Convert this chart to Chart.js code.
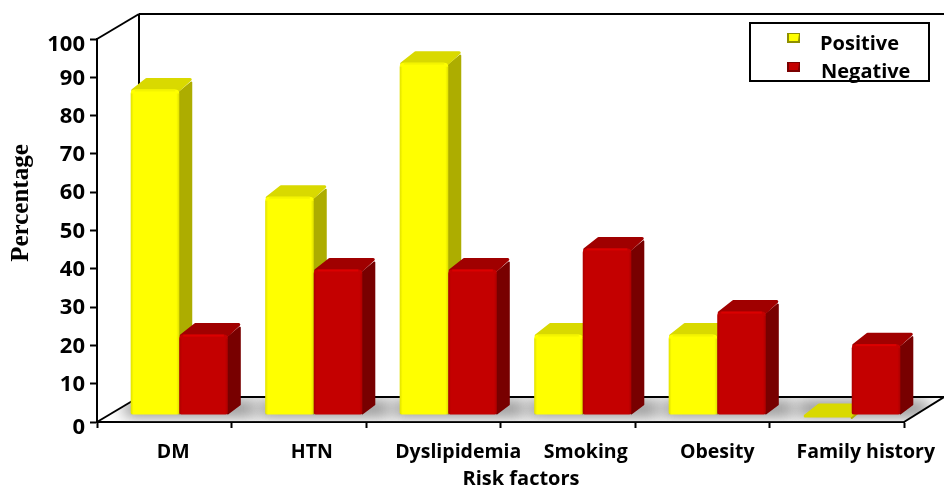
<!DOCTYPE html>
<html>
<head>
<meta charset="utf-8">
<style>
  html, body { margin: 0; padding: 0; background: #fff; }
  canvas { display: block; }
</style>
<script src="https://cdn.jsdelivr.net/npm/chart.js@4"></script>
</head>
<body>
<canvas id="myChart" width="944" height="488"></canvas>
<script>
const categories = ['DM', 'HTN', 'Dyslipidemia', 'Smoking', 'Obesity', 'Family history'];
const positive = [85, 57, 92, 21, 21, 0];
const negative = [21, 38, 38, 43.5, 27, 18.5];
const yTicks = [0, 10, 20, 30, 40, 50, 60, 70, 80, 90, 100];
const xTitle = 'Risk factors';
const yTitle = 'Percentage';

const faces = {
  Positive: { side: '#adad00', top: '#d9d900', lip: '#f4f400', swatchDark: '#8f8f00' },
  Negative: { side: '#780000', top: '#a00000', lip: '#dc0000', swatchDark: '#7a0000' },
};

// bars stand in the middle of the floor, not on the front edge
const shiftX = 15;
const shiftY = -7;
const depthX = 12;
const depthY = -10;

// labels are hand placed in the original, they don't sit on the category centres
const xLabelNudge = [9, 13, 25, 18, 15, 29];
const yLabelNudge = { 0: 6, 100: 6 };

const poly = (ctx, pts, fill, round) => {
  ctx.beginPath();
  pts.forEach((p, i) => (i ? ctx.lineTo(p[0], p[1]) : ctx.moveTo(p[0], p[1])));
  ctx.closePath();
  ctx.fillStyle = fill;
  ctx.fill();
  if (round) {
    ctx.strokeStyle = fill;
    ctx.lineWidth = round;
    ctx.lineJoin = 'round';
    ctx.stroke();
  }
};

const line = (ctx, x1, y1, x2, y2) => {
  ctx.beginPath();
  ctx.moveTo(x1, y1);
  ctx.lineTo(x2, y2);
  ctx.stroke();
};

// the left bar has to go down first so the right one covers its side face
const paintBars = (chart, index) => {
  const { ctx } = chart;
  const meta = chart.getDatasetMeta(index);
  const style = faces[chart.data.datasets[index].label];
  ctx.save();
  ctx.translate(shiftX, shiftY);
  meta.data.forEach((el) => {
    const l = el.x - el.width / 2;
    const r = el.x + el.width / 2;
    poly(ctx, [[r, el.y + 3], [r + depthX, el.y + depthY + 3], [r + depthX, el.base + depthY], [r, el.base - 1]], style.side, 2);
    poly(ctx, [[l + 2, el.y + 1], [l + depthX + 4, el.y + depthY], [r + depthX - 1, el.y + depthY], [r - 1, el.y + 1]], style.top, 3);
  });
  meta.controller.draw();
  meta.data.forEach((el) => {
    const l = el.x - el.width / 2;
    const h = el.base - el.y;
    if (h <= 0) return;
    const g = ctx.createLinearGradient(l, 0, l + el.width, 0);
    g.addColorStop(0, 'rgba(0,0,0,0.12)');
    g.addColorStop(0.06, 'rgba(0,0,0,0)');
    g.addColorStop(0.94, 'rgba(0,0,0,0)');
    g.addColorStop(1, 'rgba(0,0,0,0.12)');
    ctx.fillStyle = g;
    ctx.fillRect(l, el.y + 4, el.width, h - 4);
    ctx.fillStyle = style.lip;
    ctx.fillRect(l + 4, el.y, el.width - 8, 2);
  });
  ctx.restore();
};

const box3d = {
  id: 'box3d',
  beforeDraw(chart) {
    const xItems = chart.scales.x.getLabelItems();
    if (!xItems.nudged) {
      xItems.forEach((item, i) => {
        item.options.translation[0] += xLabelNudge[i];
      });
      xItems.nudged = true;
    }
    const yItems = chart.scales.y.getLabelItems();
    if (!yItems.nudged) {
      yItems.forEach((item) => {
        item.options.translation[1] += (yLabelNudge[item.label] || 1);
      });
      yItems.nudged = true;
    }
  },
  beforeDatasetsDraw(chart) {
    const { ctx, chartArea: a } = chart;
    const backX = a.left + 42;
    const backY = a.bottom - 25;
    const topY = a.top - 25;
    const w = chart.width;

    // floor shadow
    ctx.save();
    ctx.beginPath();
    ctx.moveTo(a.left, a.bottom);
    ctx.lineTo(backX, backY);
    ctx.lineTo(w, backY);
    ctx.lineTo(a.right, a.bottom);
    ctx.closePath();
    ctx.clip();
    ctx.filter = 'blur(8px)';
    ctx.fillStyle = '#808080';
    const first = chart.getDatasetMeta(0).data;
    const second = chart.getDatasetMeta(1).data;
    first.forEach((el, i) => {
      const left = el.x - el.width / 2 + shiftX - 6;
      const right = second[i].x + second[i].width / 2 + shiftX + 28;
      ctx.fillRect(left, backY + 4, right - left, 15);
    });
    ctx.restore();

    // walls and floor edges
    ctx.save();
    ctx.strokeStyle = '#000';
    ctx.lineWidth = 2;
    line(ctx, a.left, a.top, backX, topY);
    line(ctx, backX, topY, w, topY);
    line(ctx, backX, topY, backX, backY);
    line(ctx, backX, backY, w, backY);
    line(ctx, a.left, a.bottom, backX, backY);
    line(ctx, a.right, a.bottom, w, backY);
    ctx.restore();
  },
  // normal dataset pass is cancelled, see paintBars
  beforeDatasetDraw() {
    return false;
  },
  afterDatasetsDraw(chart) {
    paintBars(chart, 0);
    paintBars(chart, 1);
  },
  afterDraw(chart) {
    const { ctx } = chart;
    ctx.save();

    // axis titles, off centre in the original
    ctx.fillStyle = '#000';
    ctx.textAlign = 'center';
    ctx.textBaseline = 'middle';
    ctx.font = 'bold 20px "Open Sans"';
    ctx.fillText(xTitle, 521, 479);
    ctx.save();
    ctx.translate(22, 203);
    ctx.rotate(-Math.PI / 2);
    ctx.font = 'bold 25px "Liberation Serif"';
    ctx.fillText(yTitle, 0, 0);
    ctx.restore();

    // legend
    ctx.strokeStyle = '#000';
    ctx.lineWidth = 2;
    ctx.strokeRect(750, 23, 179, 58);
    ctx.textAlign = 'left';
    ctx.font = 'bold 20px "Open Sans"';
    chart.data.datasets.forEach((ds, i) => {
      const x = 787;
      const y = 33 + i * 29;
      const style = faces[ds.label];
      ctx.fillStyle = style.swatchDark;
      ctx.fillRect(x, y, 13, 10);
      poly(ctx, [[x + 2, y + 1], [x + 12, y + 1], [x + 11, y + 8], [x + 2, y + 8]], ds.backgroundColor);
      ctx.fillStyle = '#000';
      ctx.fillText(ds.label, 820 + i, 44 + i * 28);
    });
    ctx.restore();
  },
};

new Chart(document.getElementById('myChart'), {
  type: 'bar',
  plugins: [box3d],
  data: {
    labels: categories,
    datasets: [
      { label: 'Positive', data: positive, backgroundColor: '#ffff00', clip: false },
      { label: 'Negative', data: negative, backgroundColor: '#c40000', clip: false },
    ],
  },
  options: {
    responsive: false,
    animation: false,
    events: [],
    devicePixelRatio: 1,
    layout: { padding: { top: 39, right: 40, left: 0, bottom: 0 } },
    datasets: {
      bar: {
        barPercentage: 1,
        categoryPercentage: 0.722,
        borderRadius: { topLeft: 4, topRight: 4, bottomLeft: 2, bottomRight: 2 },
        borderSkipped: false,
      },
    },
    plugins: { legend: { display: false }, tooltip: { enabled: false } },
    scales: {
      x: {
        afterFit: (scale) => { scale.height = 66; },
        grid: { drawOnChartArea: false, tickColor: '#000', tickWidth: 2, tickLength: 6, offset: true },
        border: { color: '#000', width: 2 },
        ticks: {
          color: '#000',
          padding: 13,
          maxRotation: 0,
          autoSkip: false,
          font: { family: '"Open Sans"', size: 19.5, weight: 'bold' },
        },
      },
      y: {
        min: 0,
        max: 100,
        afterFit: (scale) => { scale.width = 97; },
        afterBuildTicks: (scale) => { scale.ticks = yTicks.map((value) => ({ value })); },
        grid: { drawOnChartArea: false, tickColor: '#000', tickWidth: 2, tickLength: 7 },
        border: { color: '#000', width: 2 },
        ticks: {
          color: '#000',
          padding: 5,
          font: { family: '"Open Sans"', size: 22, weight: 'bold' },
        },
      },
    },
  },
});
</script>
</body>
</html>
